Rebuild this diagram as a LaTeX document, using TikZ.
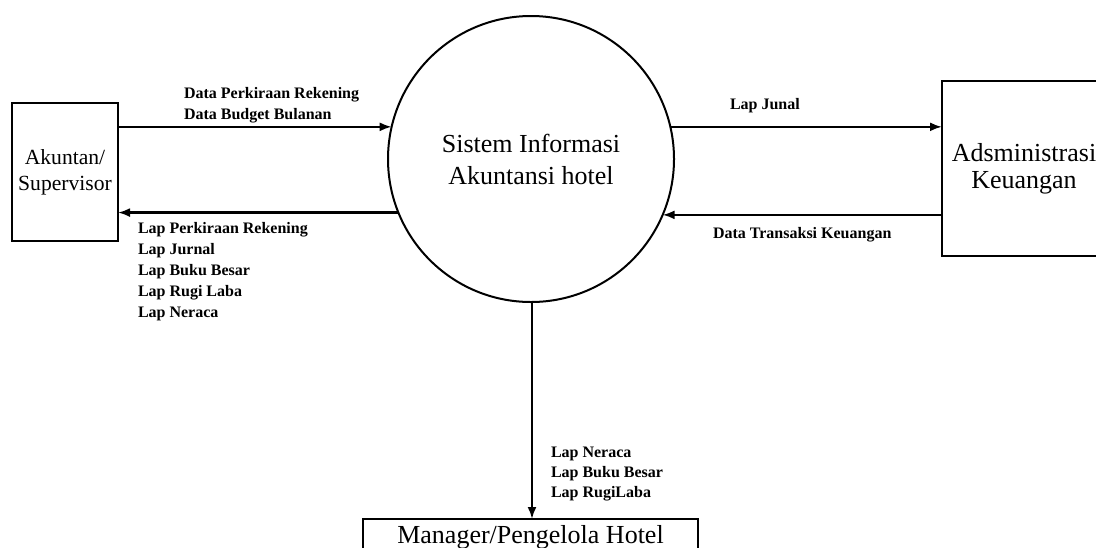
\documentclass[tikz,border=0pt]{standalone}
\usepackage{fontspec}
\setmainfont{Liberation Serif}
\usetikzlibrary{arrows.meta}
\tikzset{
  ent/.style={draw, line width=1pt, rectangle, inner sep=2pt, outer sep=0pt, align=center, font=\fontsize{13}{13.5}\selectfont},
  proc/.style={draw, line width=1pt, circle, inner sep=0pt, outer sep=0pt, minimum size=143pt, align=center, font=\fontsize{13}{16}\selectfont},
  flow/.style={line width=1.1pt, -{Latex[length=6pt,width=4.5pt]}},
  lbl/.style={anchor=north west, inner sep=0pt, outer sep=0pt, align=left},
}
\begin{document}
\begin{tikzpicture}[x=0.5pt, y=-0.5pt]
\useasboundingbox (0,0) rectangle (1096,547);
\clip (0,0) rectangle (1096,547);
\fill[white] (0,0) rectangle (1096,547);
% nodes
\node[proc] (sys) at (531,159) {Sistem Informasi\\Akuntansi hotel};
\node[ent, minimum width=53pt, minimum height=69pt, font=\fontsize{10.8}{12.8}\selectfont] (akun) at (65,172) {Akuntan/\\Supervisor};
\node[ent, minimum width=82pt, minimum height=87.5pt] (adm) at (1024,168.5) {Adsministrasi\\Keuangan};
\node[ent, minimum width=167.5pt, minimum height=18pt, inner sep=0pt] (mgr) at (530.5,537) {Manager/Pengelola Hotel};
% flows
\draw[flow] (akun.east |- sys.167.9) -- (sys.167.9);
\draw[flow] (sys.202.2) -- (akun.east |- sys.202.2);
\draw[flow] (sys.13.3) -- (adm.west |- sys.13.3);
\draw[flow] (adm.west |- sys.337.4) -- (sys.337.4);
\draw[flow] ([xshift=0.5pt]sys.south) -- ([xshift=0.5pt]sys.south |- mgr.north);
% labels
\node[lbl, font=\bfseries\fontsize{8}{10.5}\selectfont] (l1) at (184,87) {Data Perkiraan Rekening\\Data Budget Bulanan};
\node[lbl, font=\bfseries\fontsize{8}{10.5}\selectfont] (l2) at (138,222) {Lap Perkiraan Rekening\\Lap Jurnal\\Lap Buku Besar\\Lap Rugi Laba\\Lap Neraca};
\node[lbl, font=\bfseries\fontsize{8}{10.5}\selectfont] (l3) at (730,98) {Lap Junal};
\node[lbl, font=\bfseries\fontsize{8}{10.5}\selectfont] (l4) at (713,227) {Data Transaksi Keuangan};
\node[lbl, font=\bfseries\fontsize{8}{10}\selectfont] (l5) at (551,447) {Lap Neraca\\Lap Buku Besar\\Lap RugiLaba};
\end{tikzpicture}
\end{document}
